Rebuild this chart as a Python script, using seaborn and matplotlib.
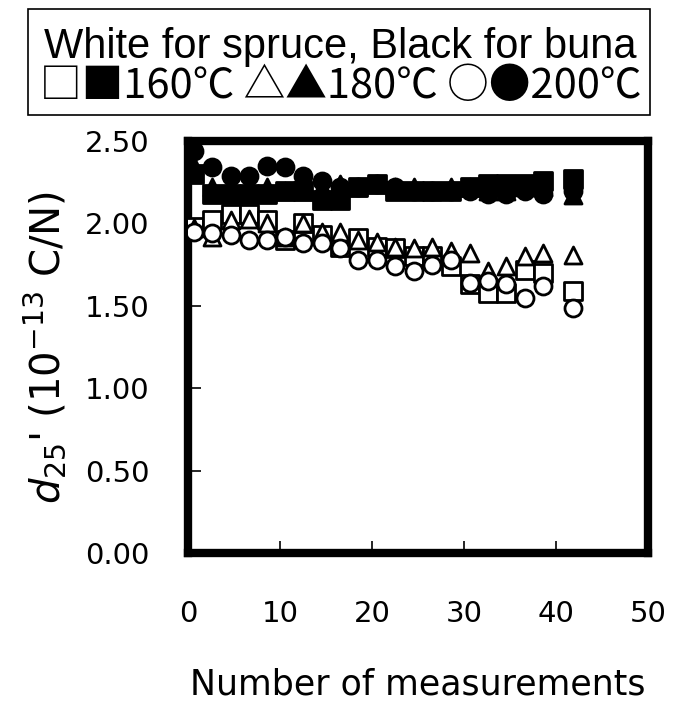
import matplotlib
matplotlib.use("Agg")
import matplotlib.pyplot as plt
import seaborn as sns
import pandas as pd

# measurement numbers
measurements = [0.6, 2.6, 4.6, 6.6, 8.6, 10.5, 12.5, 14.5, 16.5, 18.5, 20.5,
                22.5, 24.5, 26.5, 28.6, 30.6, 32.6, 34.6, 36.6, 38.6, 41.8]

# spruce (white markers)
spruce_160 = [1.98, 2.02, 2.06, 2.06, 2.02, 1.90, 2.00, 1.93, 1.86, 1.91, 1.86,
              1.85, 1.80, 1.80, 1.74, 1.63, 1.58, 1.58, 1.72, 1.70, 1.59]
spruce_180 = [1.97, 1.92, 2.02, 2.03, 2.00, 1.92, 2.00, 1.95, 1.95, 1.90, 1.89,
              1.86, 1.85, 1.86, 1.83, 1.82, 1.71, 1.74, 1.80, 1.82, 1.81]
spruce_200 = [1.95, 1.94, 1.93, 1.90, 1.90, 1.92, 1.88, 1.88, 1.85, 1.78, 1.78,
              1.74, 1.71, 1.75, 1.78, 1.64, 1.65, 1.63, 1.55, 1.62, 1.49]

# buna (black markers)
buna_160 = [2.30, 2.18, 2.18, 2.18, 2.18, 2.20, 2.20, 2.14, 2.14, 2.22, 2.24,
            2.20, 2.20, 2.20, 2.20, 2.22, 2.24, 2.24, 2.24, 2.26, 2.27]
buna_180 = [2.35, 2.22, 2.20, 2.20, 2.22, 2.20, 2.20, 2.22, 2.24, 2.22, 2.24,
            2.22, 2.22, 2.20, 2.22, 2.22, 2.20, 2.20, 2.22, 2.22, 2.17]
buna_200 = [2.44, 2.34, 2.29, 2.29, 2.35, 2.34, 2.29, 2.26, 2.22, 2.22, 2.24,
            2.22, 2.20, 2.20, 2.20, 2.20, 2.18, 2.18, 2.20, 2.18, 2.20]

y_ticks = [0.0, 0.5, 1.0, 1.5, 2.0, 2.5]
x_ticks = [0, 10, 20, 30, 40, 50]

legend_title = "White for spruce, Black for buna"
legend_line = "\u25a1\u25a0160\u2103 \u25b3\u25b2180\u2103 \u25cb\u25cf200\u2103"

sns.set_style("white")
plt.rcParams["font.family"] = ["DejaVu Sans"]
plt.rcParams["text.color"] = "black"
plt.rcParams["axes.labelcolor"] = "black"
plt.rcParams["xtick.color"] = "black"
plt.rcParams["ytick.color"] = "black"

fig = plt.figure(figsize=(6.85, 7.09), dpi=100)
ax = fig.add_axes([0.275, 0.22, 0.671, 0.581])

series = [
    (buna_160, "s", "black"), (buna_180, "^", "black"), (buna_200, "o", "black"),
    (spruce_160, "s", "white"), (spruce_180, "^", "white"), (spruce_200, "o", "white"),
]
for vals, mk, fc in series:
    df = pd.DataFrame({"x": measurements, "y": vals})
    sns.scatterplot(data=df, x="x", y="y", ax=ax, marker=mk, s=150,
                    facecolor=fc, edgecolor="black", linewidth=2.0, legend=False,
                    zorder=3)

ax.set_xlim(0, 50)
ax.set_ylim(0, 2.5)
ax.set_xticks(x_ticks)
ax.set_yticks(y_ticks)
ax.set_yticklabels([f"{v:.2f}" for v in y_ticks])
ax.tick_params(axis="both", direction="in", length=9, width=1.2, colors="black",
               labelsize=21, bottom=True, left=True)
for lbl in ax.get_xticklabels() + ax.get_yticklabels():
    lbl.set_fontweight("medium")
ax.tick_params(axis="x", pad=34)
ax.tick_params(axis="y", pad=28)
for sp in ax.spines.values():
    sp.set_visible(True)
    sp.set_color("black")
    sp.set_linewidth(6)

ax.set_xlabel("Number of measurements", fontsize=25, labelpad=28)
ax.set_ylabel(r"$d_{25}$' (10$^{-13}$ C/N)", fontsize=29, labelpad=12)

# legend box text
fig.text(0.497, 0.934, legend_title, ha="center", va="center", fontsize=30,
         family=["Liberation Sans", "DejaVu Sans"])
fig.text(0.497, 0.878, legend_line, ha="center", va="center", fontsize=30,
         family=["Noto Sans CJK JP", "DejaVu Sans"])
rect = plt.Rectangle((0.041, 0.838), 0.908, 0.150, transform=fig.transFigure,
                     fill=False, edgecolor="black", linewidth=1.2)
fig.add_artist(rect)

fig.savefig("out.png", dpi=100, facecolor="white")
